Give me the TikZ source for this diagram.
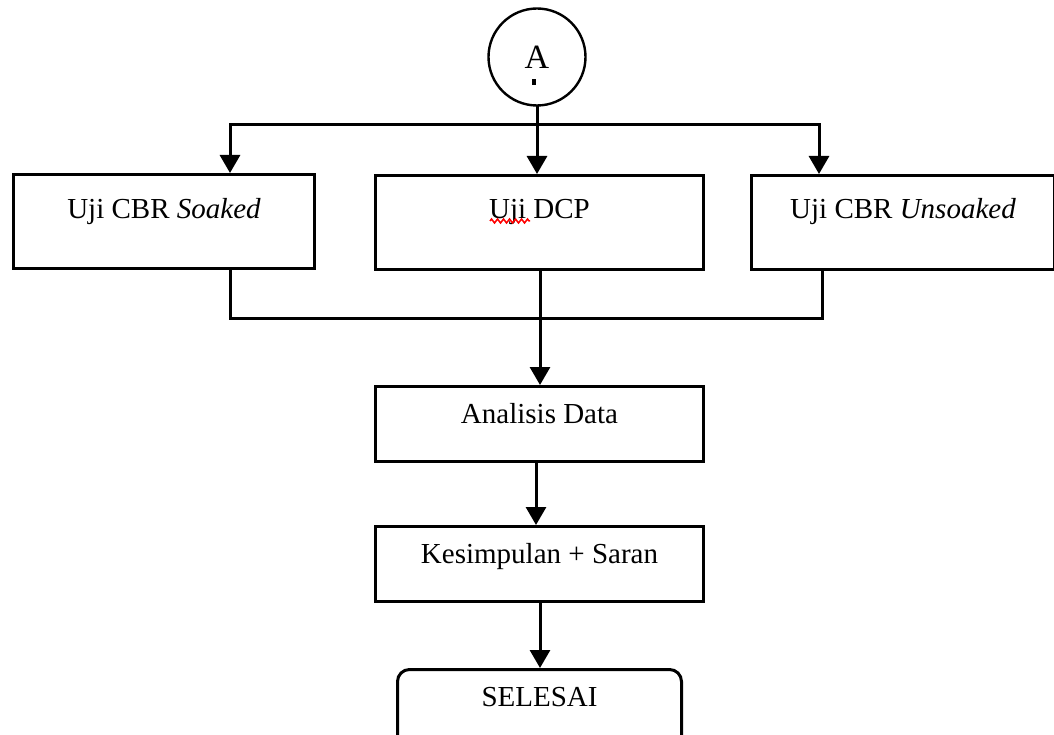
\documentclass[tikz,border=0pt]{standalone}
\usepackage{fontspec}
\setmainfont{Liberation Serif}
\usetikzlibrary{arrows.meta,decorations.pathmorphing}
\begin{document}
\begin{tikzpicture}[x=1pt,y=-1pt,
  box/.style={draw,line width=3pt,inner sep=0pt,anchor=north west,
    font=\fontsize{29}{34}\selectfont},
  arr/.style={line width=3pt,-{Triangle[length=18pt,width=20pt]}},
  ln/.style={line width=3pt,line cap=rect}]
\useasboundingbox (0,0) rectangle (1054,735);

\node[draw,circle,minimum size=97pt,line width=2.4pt,inner sep=0pt,
  font=\fontsize{34}{40}\selectfont] (A) at (537,57) {A};
\fill (532,79) rectangle (536,85);

\node[box,minimum width=301pt,text height=44pt,text depth=50pt] (b1) at (12,173) {Uji CBR \textit{Soaked}};
\node[box,minimum width=328pt,text height=43pt,text depth=51pt] (b2) at (374,174) {Uji DCP};
\node[box,minimum width=303pt,text height=43pt,text depth=51pt] (b3) at (750,174) {Uji CBR \textit{Unsoaked}};
\node[box,minimum width=328pt,text height=37pt,text depth=38pt] (b4) at (374,385) {Analisis Data};
\node[box,minimum width=328pt,text height=37pt,text depth=38pt] (b5) at (374,525) {Kesimpulan + Saran};
\node[box,rounded corners=12pt,minimum width=284pt,text height=37pt,text depth=80pt] (b6) at (396,668) {SELESAI};

\draw[red,line width=1.5pt,decorate,decoration={zigzag,segment length=6pt,amplitude=2pt}] (490,221) -- (530,221);

\coordinate (jm) at (537,125);
\coordinate (jl) at (230,125);
\coordinate (jr) at (819,125);
\draw[ln] (A.south) -- (jm);
\draw[ln] (jl) -- (jr);
\draw[arr] (jl) -- (jl |- b1.north);
\draw[arr] (jm) -- (jm |- b2.north);
\draw[arr] (jr) -- (jr |- b3.north);

\coordinate (kl) at (230,318);
\coordinate (kr) at (822,318);
\coordinate (km) at (540,318);
\draw[ln] (kl |- b1.south) -- (kl) -- (kr) -- (kr |- b3.south);
\draw[arr] (km |- b2.south) -- (km |- b4.north);

\coordinate (c1) at (536,0);
\coordinate (c2) at (540,0);
\draw[arr] (c1 |- b4.south) -- (c1 |- b5.north);
\draw[arr] (c2 |- b5.south) -- (c2 |- b6.north);
\end{tikzpicture}
\end{document}
